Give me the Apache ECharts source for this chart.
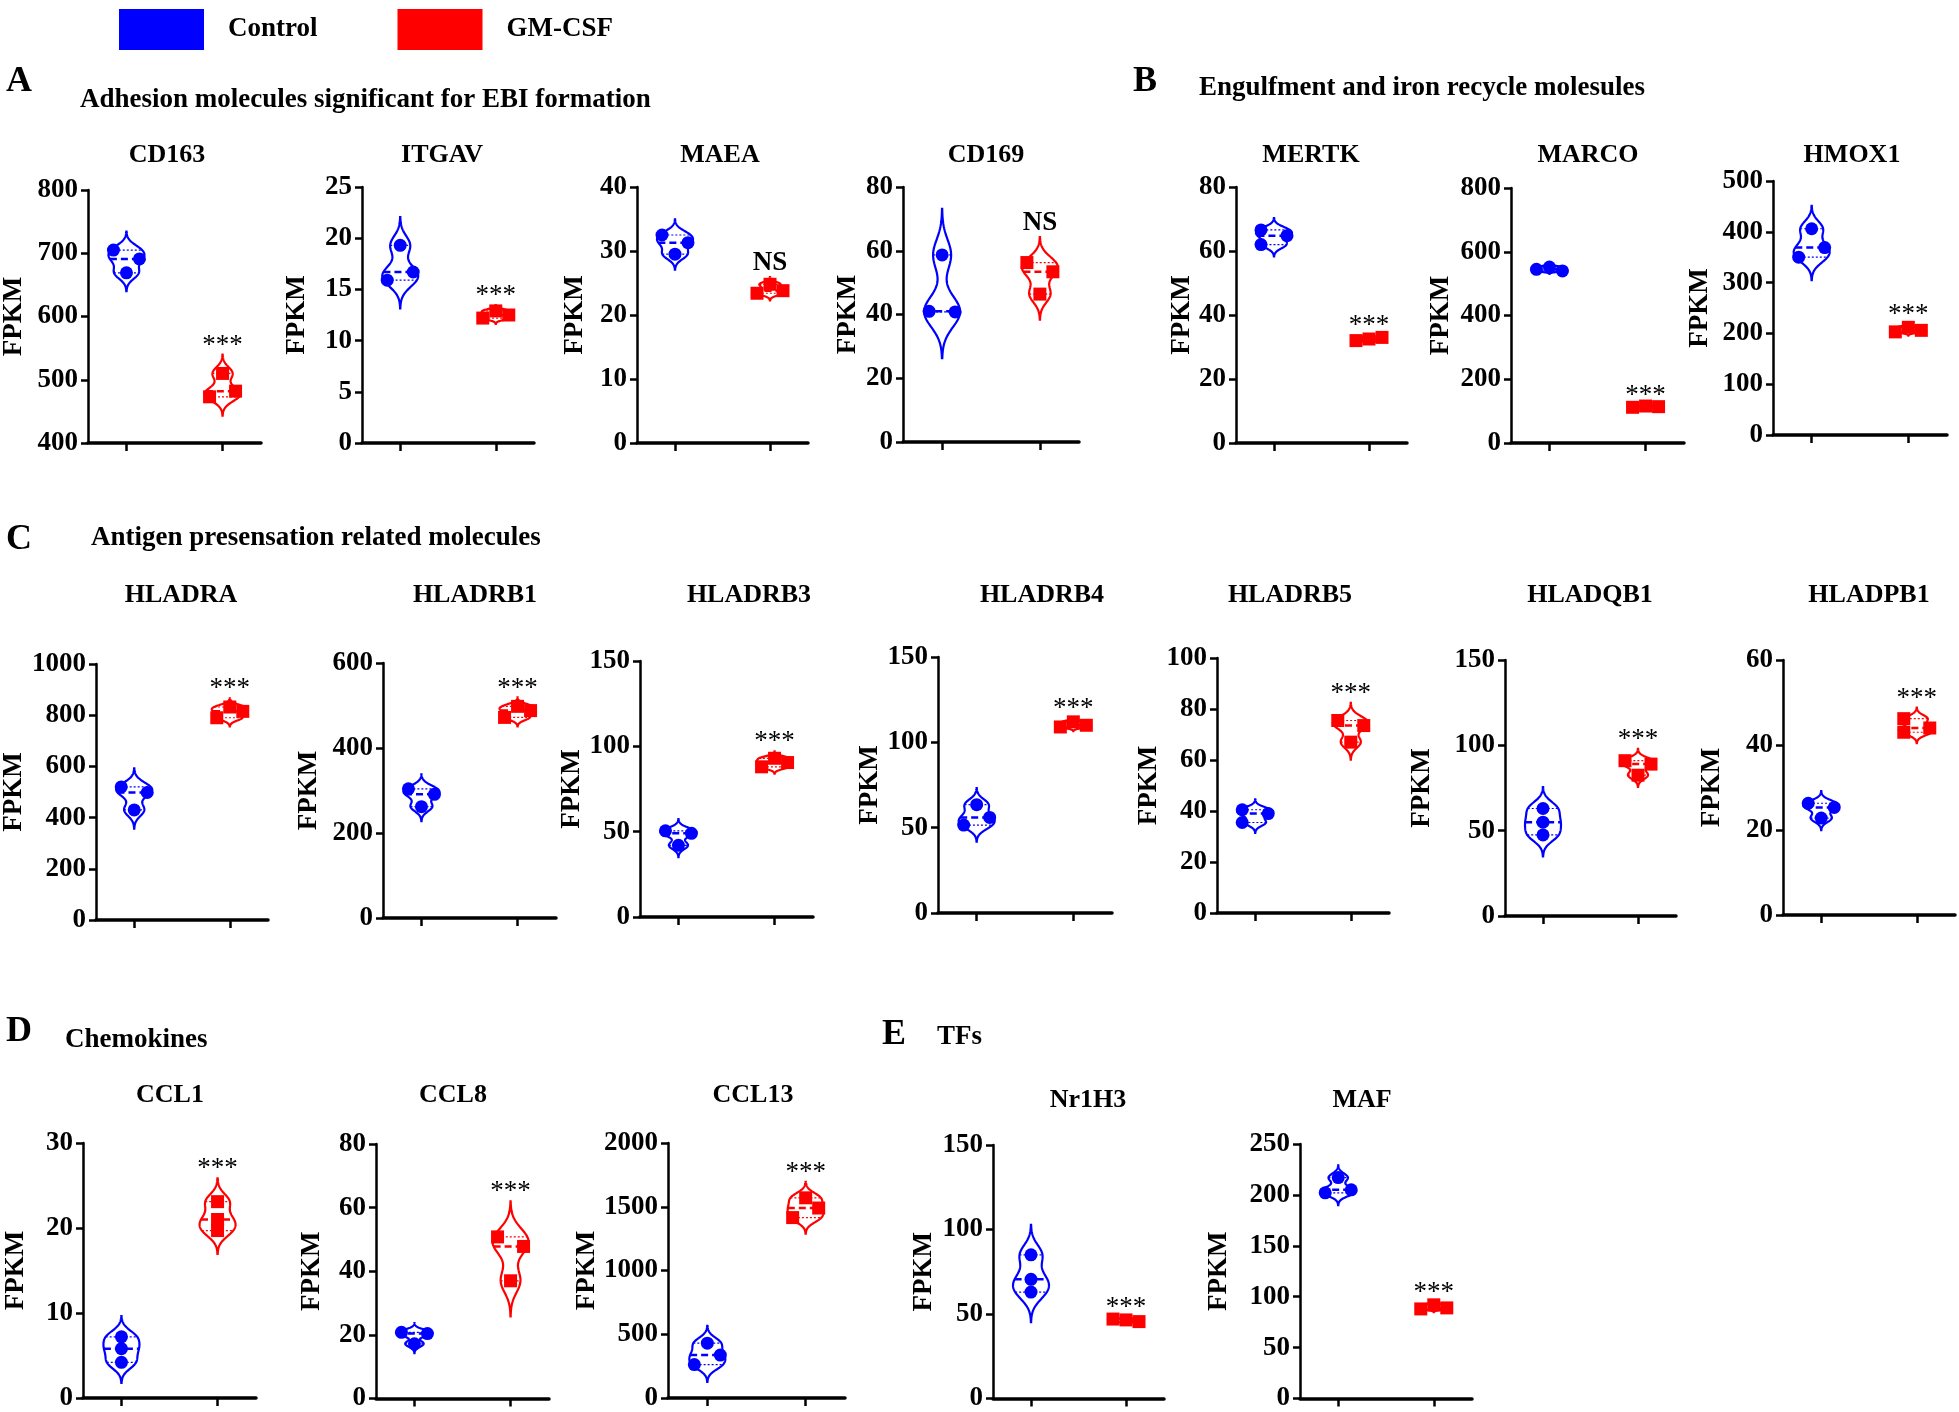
<!DOCTYPE html>
<html>
<head>
<meta charset="utf-8">
<script src="https://cdn.jsdelivr.net/npm/echarts@6/dist/echarts.min.js"></script>
<style>
  html, body { margin: 0; background: #fff; }
  #chart { width: 1959px; height: 1412px; }
</style>
</head>
<body>
<div id="chart"></div>
<script>
// FPKM values, 3 replicates per group
const genes = ['CD163', 'ITGAV', 'MAEA', 'CD169', 'MERTK', 'MARCO', 'HMOX1',
  'HLADRA', 'HLADRB1', 'HLADRB3', 'HLADRB4', 'HLADRB5', 'HLADQB1', 'HLADPB1',
  'CCL1', 'CCL8', 'CCL13', 'Nr1H3', 'MAF']
const controlFPKM = [
  [705, 691, 669], [19.3, 15.9, 16.7], [32.5, 31.3, 29.5], [58.7, 41, 40.8],
  [66.6, 64.8, 62], [545, 552, 540], [406, 350, 369],
  [520, 498, 430], [304, 291, 262], [50.5, 49, 42], [63.5, 51.5, 56],
  [40.5, 39, 35.5], [63, 55, 47.5], [26.3, 25.3, 22.8],
  [7.2, 5.8, 4.2], [20.8, 20.4, 17.2], [430, 262, 337], [85, 70.5, 63], [217, 202, 205]
]
const gmcsfFPKM = [
  [510, 473, 482], [12.2, 12.9, 12.5], [23.4, 24.8, 23.8], [56.3, 53.4, 46.4],
  [32, 32.5, 33], [112, 116, 114], [203, 212, 206],
  [790, 832, 815], [472, 498, 488], [88, 93, 90.5], [109, 112, 110],
  [75.5, 73.5, 67], [91, 89, 82.5], [46.2, 44, 43],
  [23.1, 21, 19.7], [50.8, 47.8, 37], [1570, 1415, 1490], [47, 46.5, 45.5], [88, 92, 89]
]
const axisMin = [400, 0, 0, 0, 0, 0, 0, 0, 0, 0, 0, 0, 0, 0, 0, 0, 0, 0, 0]
const axisMax = [800, 25, 40, 80, 80, 800, 500, 1000, 600, 150, 150, 100, 150, 60, 30, 80, 2000, 150, 250]
const axisStep = [100, 5, 10, 20, 20, 200, 100, 200, 200, 50, 50, 20, 50, 20, 10, 20, 500, 50, 50]
const signif = ['***', '***', 'NS', 'NS', '***', '***', '***',
  '***', '***', '***', '***', '***', '***', '***', '***', '***', '***', '***', '***']

// layout: [axis left, axis right, top, bottom] in px
const boxes = [
  [88, 261, 190, 443], [362, 534, 187, 443], [637, 808, 187, 443], [903, 1079, 187, 442],
  [1236, 1407, 187, 443], [1511, 1684, 188, 443], [1773, 1947, 181, 435],
  [96, 268, 664, 920], [383, 556, 663, 918], [640, 813, 661, 917], [938, 1112, 657, 913],
  [1217, 1389, 658, 913], [1505, 1676, 660, 916], [1783, 1955, 660, 915],
  [83, 256, 1143, 1398], [376, 549, 1144, 1400], [668, 845, 1143, 1398],
  [993, 1164, 1145, 1400], [1300, 1472, 1144, 1399]
]
const titleAt = [[167, 155], [442, 155], [720, 155], [986, 155], [1311, 155], [1588, 155], [1852, 155],
  [181, 595], [475, 595], [749, 595], [1042, 595], [1290, 595], [1590, 595], [1869, 595],
  [170, 1095], [453, 1095], [753, 1095], [1088, 1100], [1362, 1100]]
const fpkmGap = [75, 66, 63, 56, 55, 71, 74, 83, 75, 65, 66, 69, 84, 72, 68, 65, 77, 70, 82]

const headers = [['A', 6, 82], ['B', 1133, 82], ['C', 6, 540], ['D', 6, 1032], ['E', 882, 1035]]
const sections = [
  ['Adhesion molecules significant for EBI formation', 80, 100],
  ['Engulfment and iron recycle molesules', 1199, 88],
  ['Antigen presensation related molecules', 91, 538],
  ['Chemokines', 65, 1040],
  ['TFs', 937, 1037]
]

const SERIF = '"Liberation Serif", "Times New Roman", serif'
const BLUE = '#0000ff'
const RED = '#ff0000'
const HALF = 18   // max half-width of a violin, px
const SPREAD = 13 // horizontal spread of overlapping points, px

const sortAsc = (a) => a.slice().sort((x, y) => x - y)
function qLinear (s, p) {
  const pos = (s.length - 1) * p
  const lo = Math.floor(pos)
  const hi = Math.ceil(pos)
  return s[lo] + (s[hi] - s[lo]) * (pos - lo)
}
function qPrism (s, p) {
  let pos = (s.length + 1) * p - 1
  pos = Math.max(0, Math.min(s.length - 1, pos))
  const lo = Math.floor(pos)
  const hi = Math.ceil(pos)
  return s[lo] + (s[hi] - s[lo]) * (pos - lo)
}
function bandwidth (s) {
  const n = s.length
  const mean = s.reduce((a, b) => a + b, 0) / n
  const sd = Math.sqrt(s.reduce((a, b) => a + (b - mean) * (b - mean), 0) / (n - 1))
  const iqr = qLinear(s, 0.75) - qLinear(s, 0.25)
  let a = Math.min(sd, iqr / 1.34)
  if (!(a > 0)) a = sd || 1
  return 0.9 * a * Math.pow(n, -0.2)
}
function density (s, h, y) {
  let d = 0
  s.forEach(v => { d += Math.exp(-0.5 * ((y - v) / h) * ((y - v) / h)) })
  return d
}

// horizontal spread for points that would overlap
function spread (vals, pxPerUnit) {
  const idx = vals.map((v, i) => i).sort((a, b) => vals[b] - vals[a])
  const clusters = []
  let cur = [idx[0]]
  for (let k = 1; k < idx.length; k++) {
    if ((vals[idx[k - 1]] - vals[idx[k]]) * pxPerUnit < 10) cur.push(idx[k])
    else { clusters.push(cur); cur = [idx[k]] }
  }
  clusters.push(cur)
  const off = vals.map(() => 0)
  clusters.forEach(c => {
    if (c.length === 2) {
      const o = sortAsc(c)
      off[o[0]] = -SPREAD; off[o[1]] = SPREAD
    } else if (c.length === 3) {
      const span = (vals[c[0]] - vals[c[2]]) * pxPerUnit
      if (span > 12) {
        off[c[0]] = -SPREAD; off[c[1]] = SPREAD; off[c[2]] = -SPREAD
      } else {
        const o = sortAsc(c)
        off[o[0]] = -SPREAD; off[o[1]] = 0; off[o[2]] = SPREAD
      }
    }
  })
  return off
}

function violinRender (p) {
  return function (params, api) {
    const g = api.value(0)
    const s = sortAsc(g === 0 ? controlFPKM[p] : gmcsfFPKM[p])
    const color = g === 0 ? BLUE : RED
    const h = bandwidth(s)
    const lo = s[0] - 3 * h
    const hi = s[s.length - 1] + 3 * h
    const N = 90
    const ys = []
    const ds = []
    let maxD = 0
    for (let i = 0; i <= N; i++) {
      const y = lo + (hi - lo) * i / N
      const d = density(s, h, y)
      ys.push(y); ds.push(d)
      if (d > maxD) maxD = d
    }
    const cx = api.coord([g, s[0]])[0]
    const rightSide = []
    const leftSide = []
    for (let i = 0; i <= N; i++) {
      const py = api.coord([g, ys[i]])[1]
      const w = HALF * ds[i] / maxD
      rightSide.push([cx + w, py])
      leftSide.unshift([cx - w, py])
    }
    const hline = (v, dash, lw) => {
      const py = api.coord([g, v])[1]
      const w = HALF * density(s, h, v) / maxD
      return {
        type: 'line',
        shape: { x1: cx - w, y1: py, x2: cx + w, y2: py },
        style: { stroke: color, lineWidth: lw, lineDash: dash }
      }
    }
    const children = [
      {
        type: 'polygon',
        shape: { points: rightSide.concat(leftSide) },
        style: { fill: 'none', stroke: color, lineWidth: 2.2 }
      },
      hline(qPrism(s, 0.25), [2, 2], 1.2),
      hline(qPrism(s, 0.75), [2, 2], 1.2),
      hline(qPrism(s, 0.5), [7, 4], 2.5)
    ]
    if (g === 1) {
      const topPy = api.coord([g, hi])[1]
      const ns = signif[p] === 'NS'
      children.push({
        type: 'text',
        x: cx,
        y: topPy - (ns ? 14 : 9),
        style: {
          text: signif[p],
          fill: '#000',
          font: (ns ? 'bold 27px ' : 'normal 27px ') + SERIF,
          align: 'center',
          verticalAlign: 'middle'
        }
      })
    }
    return { type: 'group', children }
  }
}

const grid = []
const xAxis = []
const yAxis = []
const series = []
const graphic = []

genes.forEach((gene, p) => {
  const [L, R, T, B] = boxes[p]
  grid.push({ left: L, top: T, width: R - L, height: B - T })
  xAxis.push({
    gridIndex: p,
    type: 'value',
    min: -0.4,
    max: 1.4,
    axisLine: { show: true, onZero: false, lineStyle: { color: '#000', width: 3.5 } },
    axisTick: { show: true, customValues: [0, 1], length: 8, lineStyle: { color: '#000', width: 2.5 } },
    axisLabel: { show: false },
    splitLine: { show: false }
  })
  yAxis.push({
    gridIndex: p,
    type: 'value',
    min: axisMin[p],
    max: axisMax[p],
    interval: axisStep[p],
    name: 'FPKM',
    nameLocation: 'middle',
    nameRotate: 90,
    nameGap: fpkmGap[p] - 15,
    nameTextStyle: { color: '#000', fontFamily: SERIF, fontWeight: 'bold', fontSize: 27 },
    axisLine: { show: true, onZero: false, lineStyle: { color: '#000', width: 2.5 } },
    axisTick: { show: true, length: 7, lineStyle: { color: '#000', width: 2.5 } },
    axisLabel: {
      margin: 10,
      color: '#000',
      fontFamily: SERIF,
      fontWeight: 'bold',
      fontSize: 27,
      formatter: (v) => String(v)
    },
    splitLine: { show: false }
  })

  const pxPerUnit = (B - T) / (axisMax[p] - axisMin[p])
  const groups = [
    ['Control', controlFPKM[p], 'circle', BLUE],
    ['GM-CSF', gmcsfFPKM[p], 'rect', RED]
  ]
  groups.forEach(([name, vals, symbol, color], g) => {
    const off = spread(vals, pxPerUnit)
    series.push({
      name,
      type: 'scatter',
      xAxisIndex: p,
      yAxisIndex: p,
      symbol,
      symbolSize: 13,
      itemStyle: { color, opacity: 1 },
      z: 2,
      data: vals.map((v, i) => ({ value: [g, v], symbolOffset: [off[i], 0] }))
    })
  })
  series.push({
    name: 'violin-' + gene,
    type: 'custom',
    xAxisIndex: p,
    yAxisIndex: p,
    clip: false,
    z: 3,
    renderItem: violinRender(p),
    data: [[0, 0], [1, 0]]
  })

  graphic.push({
    type: 'text',
    x: titleAt[p][0],
    y: titleAt[p][1],
    style: { text: gene, fill: '#000', font: 'bold 26px ' + SERIF, align: 'center', verticalAlign: 'middle' }
  })
})

headers.forEach(([t, x, y]) => {
  graphic.push({
    type: 'text', x, y,
    style: { text: t, fill: '#000', font: 'bold 36px ' + SERIF, align: 'left', verticalAlign: 'middle' }
  })
})
sections.forEach(([t, x, y]) => {
  graphic.push({
    type: 'text', x, y,
    style: { text: t, fill: '#000', font: 'bold 27px ' + SERIF, align: 'left', verticalAlign: 'middle' }
  })
})

const chart = echarts.init(document.getElementById('chart'))
chart.setOption({
  backgroundColor: '#fff',
  animation: false,
  legend: {
    data: [{ name: 'Control', icon: 'rect' }, { name: 'GM-CSF', icon: 'rect' }],
    left: 114,
    top: 4,
    itemWidth: 85,
    itemHeight: 41,
    itemGap: 80,
    textStyle: { color: '#000', fontFamily: SERIF, fontWeight: 'bold', fontSize: 27, padding: [0, 0, 0, 19] }
  },
  grid,
  xAxis,
  yAxis,
  series,
  graphic
})
</script>
</body>
</html>
